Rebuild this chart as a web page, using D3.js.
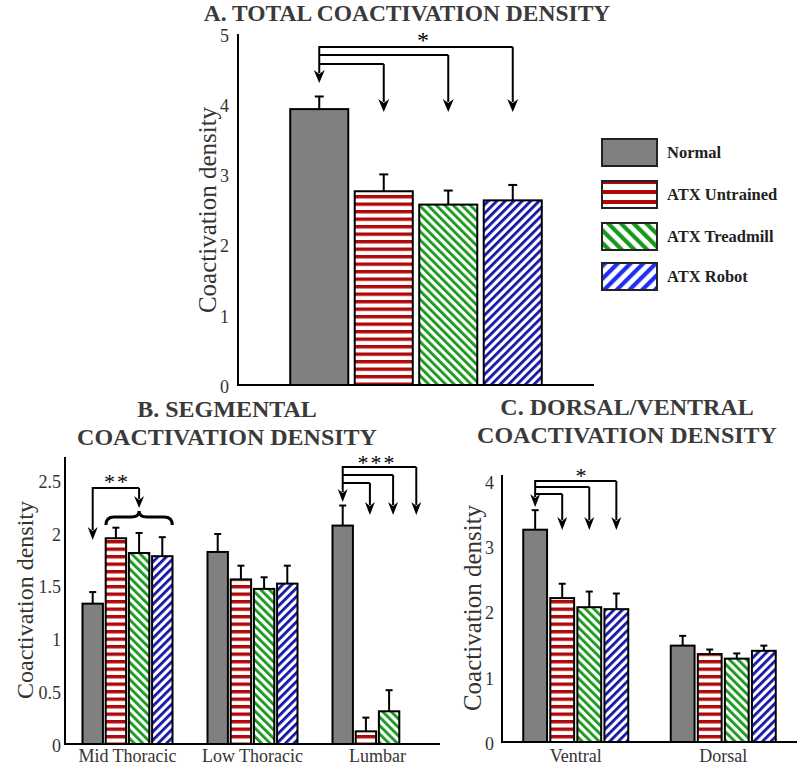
<!DOCTYPE html>
<html><head><meta charset="utf-8">
<script src="https://cdn.jsdelivr.net/npm/d3@7"></script>
<style>body{margin:0;background:#fff}svg{display:block}</style>
</head><body>
<svg id="chart" width="800" height="771"></svg>
<script>
// ---------- DATA ----------
const groups = ["Normal", "ATX Untrained", "ATX Treadmill", "ATX Robot"];

const totalMean = [3.93, 2.76, 2.57, 2.63];
const totalErr  = [0.18, 0.24, 0.20, 0.22];

const segCategories = ["Mid Thoracic", "Low Thoracic", "Lumbar"];
const segNormal       = [1.33, 1.82, 2.07];
const segNormalErr    = [0.11, 0.17, 0.19];
const segUntrained    = [1.95, 1.56, 0.12];
const segUntrainedErr = [0.10, 0.13, 0.13];
const segTreadmill    = [1.81, 1.47, 0.31];
const segTreadmillErr = [0.19, 0.11, 0.20];
const segRobot        = [1.78, 1.52, 0];
const segRobotErr     = [0.18, 0.17, 0];

const dvCategories = ["Ventral", "Dorsal"];
const dvNormal       = [3.26, 1.48];
const dvNormalErr    = [0.30, 0.15];
const dvUntrained    = [2.21, 1.35];
const dvUntrainedErr = [0.22, 0.07];
const dvTreadmill    = [2.07, 1.28];
const dvTreadmillErr = [0.24, 0.08];
const dvRobot        = [2.04, 1.40];
const dvRobotErr     = [0.24, 0.08];

const ticksA = [0, 1, 2, 3, 4, 5];
const ticksB = [0, 0.5, 1, 1.5, 2, 2.5];
const ticksC = [0, 1, 2, 3, 4];

const titleA = ["A. TOTAL COACTIVATION DENSITY"];
const titleB = ["B. SEGMENTAL", "COACTIVATION DENSITY"];
const titleC = ["C. DORSAL/VENTRAL", "COACTIVATION DENSITY"];
const yLabel = "Coactivation density";

// ---------- SETUP ----------
const svg = d3.select("#chart");
svg.append("rect").attr("width", 800).attr("height", 771).attr("fill", "#fff");
const defs = svg.append("defs");
const SERIF = "'Liberation Serif','Times New Roman',serif";
const RED = "#b00808", GREEN = "#16991a", BLUE = "#1414a8";

function hatch(id, color, period, stroke, angle) {
  const p = defs.append("pattern").attr("id", id)
    .attr("patternUnits", "userSpaceOnUse")
    .attr("width", period).attr("height", period);
  if (angle) p.attr("patternTransform", `rotate(${angle})`);
  p.append("rect").attr("width", period).attr("height", period).attr("fill", "#fff");
  if (angle) p.append("rect").attr("x", 0).attr("y", 0).attr("width", stroke).attr("height", period).attr("fill", color);
  else p.append("rect").attr("x", 0).attr("y", 0).attr("width", period).attr("height", stroke).attr("fill", color);
}
hatch("pRed", RED, 7.5, 3.4, 0);
hatch("pGreen", GREEN, 6, 2.8, -45);
hatch("pBlue", BLUE, 6, 2.8, 45);
hatch("lRed", RED, 10, 4, 0);
hatch("lGreen", GREEN, 9, 4.2, -45);
hatch("lBlue", "#2030f0", 9, 4.2, 45);

const fills = ["#808080", "url(#pRed)", "url(#pGreen)", "url(#pBlue)"];
const legendFills = ["#808080", "url(#lRed)", "url(#lGreen)", "url(#lBlue)"];

function arrowDown(g, x, yTop, yTip, w, len) {
  g.append("line").attr("x1", x).attr("x2", x).attr("y1", yTop).attr("y2", yTip - len + 3)
    .attr("stroke", "#000").attr("stroke-width", 2);
  g.append("path")
    .attr("d", `M${x},${yTip} L${x - w / 2},${yTip - len} L${x},${yTip - len + 4} L${x + w / 2},${yTip - len} Z`)
    .attr("fill", "#000");
}

function drawPanel(cfg) {
  const g = svg.append("g");
  const y = d3.scaleLinear().domain(cfg.yDomain).range([cfg.y0, cfg.yTop]);
  const ax = d3.axisLeft(y).tickValues(cfg.ticks).tickSize(0).tickPadding(cfg.tickPad)
    .tickFormat(d3.format("~g"));
  const ag = g.append("g").attr("transform", `translate(${cfg.xLeft},0)`).call(ax);
  ag.select(".domain").remove();
  ag.selectAll("text").attr("font-family", SERIF).attr("font-size", 18).attr("fill", "#333").attr("dy", "0.4em");
  g.append("line").attr("x1", cfg.xLeft).attr("x2", cfg.xLeft).attr("y1", cfg.y0 + 1).attr("y2", cfg.yTop)
    .attr("stroke", "#000").attr("stroke-width", 2);
  g.append("line").attr("x1", cfg.xLeft - 1).attr("x2", cfg.xRight).attr("y1", cfg.y0).attr("y2", cfg.y0)
    .attr("stroke", "#000").attr("stroke-width", 2);
  g.append("text").attr("transform", `translate(${cfg.yLabelX},${cfg.yLabelY}) rotate(-90)`)
    .attr("text-anchor", "middle").attr("dy", "0.35em")
    .attr("font-family", SERIF).attr("font-size", cfg.yLabelSize).attr("fill", "#333").text(yLabel);
  g.append("g").selectAll("text").data(cfg.title).join("text")
    .attr("x", cfg.titleX).attr("y", (d, i) => cfg.titleY + i * 28)
    .attr("text-anchor", "middle").attr("font-family", SERIF).attr("font-weight", "bold")
    .attr("font-size", cfg.titleSize).attr("fill", "#3a3a3a").text(d => d);
  return { g, y };
}

function drawBars(g, y, data, xPos, bw, cap) {
  const bars = data.filter(d => d.v > 0);
  g.selectAll(null).data(bars).join("line")
    .attr("x1", d => xPos(d) + bw / 2).attr("x2", d => xPos(d) + bw / 2)
    .attr("y1", d => y(d.v)).attr("y2", d => y(d.v + d.e))
    .attr("stroke", "#000").attr("stroke-width", 2);
  g.selectAll(null).data(bars).join("line")
    .attr("x1", d => xPos(d) + bw / 2 - cap / 2).attr("x2", d => xPos(d) + bw / 2 + cap / 2)
    .attr("y1", d => y(d.v + d.e)).attr("y2", d => y(d.v + d.e))
    .attr("stroke", "#000").attr("stroke-width", 2);
  g.selectAll(null).data(bars).join("rect")
    .attr("x", d => xPos(d)).attr("width", bw)
    .attr("y", d => y(d.v)).attr("height", d => y(0) - y(d.v))
    .attr("fill", d => fills[d.s]).attr("stroke", "#000").attr("stroke-width", 2);
}

// ---------- PANEL A ----------
{
  const P = drawPanel({ yDomain: [0, 5], y0: 385, yTop: 34, xLeft: 238, xRight: 594, ticks: ticksA, tickPad: 9,
    yLabelX: 207, yLabelY: 210, yLabelSize: 25, title: titleA, titleX: 407, titleY: 21, titleSize: 23.5 });
  const x = d3.scaleBand().domain(groups).range([287, 545]).paddingInner(0.1).paddingOuter(0.05);
  const data = groups.map((k, i) => ({ k, v: totalMean[i], e: totalErr[i], s: i }));
  drawBars(P.g, P.y, data, d => x(d.k), x.bandwidth(), 9);
  const cx = k => x(k) + x.bandwidth() / 2;
  const x0 = cx(groups[0]);
  const levels = [64, 55, 47];
  [1, 2, 3].forEach((j, i) => {
    const xx = cx(groups[j]);
    P.g.append("path").attr("d", `M${x0},${levels[i]} H${xx}`).attr("stroke", "#000").attr("stroke-width", 2).attr("fill", "none");
    arrowDown(P.g, xx, levels[i], 112, 11, 13);
  });
  arrowDown(P.g, x0, 46, 83, 11, 13);
  P.g.append("text").attr("x", 423).attr("y", 48).attr("text-anchor", "middle")
    .attr("font-family", SERIF).attr("font-size", 24).text("*");

  const lg = svg.append("g");
  const ly = [139, 181, 223, 263];
  groups.forEach((k, i) => {
    lg.append("rect").attr("x", 602).attr("y", ly[i]).attr("width", 55).attr("height", 27)
      .attr("fill", legendFills[i]).attr("stroke", "#222").attr("stroke-width", 2);
    lg.append("text").attr("x", 667).attr("y", ly[i] + 19).attr("font-family", SERIF).attr("font-weight", "bold")
      .attr("font-size", 16.5).attr("fill", "#222").text(k);
  });
}

// ---------- PANEL B ----------
{
  const P = drawPanel({ yDomain: [0, 2.72], y0: 744, yTop: 457, xLeft: 65, xRight: 440, ticks: ticksB, tickPad: 4,
    yLabelX: 25, yLabelY: 600, yLabelSize: 24, title: titleB, titleX: 227, titleY: 417, titleSize: 24 });
  const x0 = d3.scaleBand().domain(segCategories).range([65, 440]);
  const x1 = d3.scaleBand().domain(groups).range([0, 90]).paddingInner(0.12);
  const series = [[segNormal, segNormalErr], [segUntrained, segUntrainedErr], [segTreadmill, segTreadmillErr], [segRobot, segRobotErr]];
  const data = [];
  segCategories.forEach((c, ci) => series.forEach((s, si) => data.push({ c, k: groups[si], v: s[0][ci], e: s[1][ci], s: si })));
  const xPos = d => x0(d.c) + x0.bandwidth() / 2 - 45 + x1(d.k);
  drawBars(P.g, P.y, data, xPos, x1.bandwidth(), 7);
  P.g.selectAll(null).data(segCategories).join("text")
    .attr("x", c => x0(c) + x0.bandwidth() / 2).attr("y", 762).attr("text-anchor", "middle")
    .attr("font-family", SERIF).attr("font-size", 18).attr("fill", "#333").text(c => c);
  const cx = (c, k) => x0(c) + x0.bandwidth() / 2 - 45 + x1(k) + x1.bandwidth() / 2;
  const mN = cx(segCategories[0], groups[0]);
  const bx1 = cx(segCategories[0], groups[1]) - 10, bx2 = cx(segCategories[0], groups[3]) + 10;
  const bm = (bx1 + bx2) / 2;
  P.g.append("path").attr("d", `M${mN},${488} H${bm}`).attr("stroke", "#000").attr("stroke-width", 2).attr("fill", "none");
  arrowDown(P.g, mN, 487, 540, 10, 13);
  arrowDown(P.g, bm, 488, 508, 10, 12);
  const yb = 525, ym = 517, yt = 511;
  P.g.append("path")
    .attr("d", `M${bx1},${yb} Q${bx1},${ym} ${bx1 + 8},${ym} L${bm - 8},${ym} Q${bm},${ym} ${bm},${yt} Q${bm},${ym} ${bm + 8},${ym} L${bx2 - 8},${ym} Q${bx2},${ym} ${bx2},${yb}`)
    .attr("stroke", "#000").attr("stroke-width", 3).attr("fill", "none");
  P.g.append("text").attr("x", 117).attr("y", 489).attr("text-anchor", "middle")
    .attr("font-family", SERIF).attr("font-size", 22).attr("letter-spacing", 2).text("**");
  const lN = cx(segCategories[2], groups[0]);
  const lv = [483, 475, 467];
  [1, 2, 3].forEach((j, i) => {
    const xx = cx(segCategories[2], groups[j]) + 4;
    P.g.append("path").attr("d", `M${lN},${lv[i]} H${xx}`).attr("stroke", "#000").attr("stroke-width", 2).attr("fill", "none");
    arrowDown(P.g, xx, lv[i], 515, 10, 13);
  });
  arrowDown(P.g, lN, 466, 502, 10, 13);
  P.g.append("text").attr("x", 377).attr("y", 470).attr("text-anchor", "middle")
    .attr("font-family", SERIF).attr("font-size", 22).attr("letter-spacing", 2).text("***");
}

// ---------- PANEL C ----------
{
  const P = drawPanel({ yDomain: [0, 4.1], y0: 742, yTop: 475, xLeft: 502, xRight: 797, ticks: ticksC, tickPad: 8,
    yLabelX: 472, yLabelY: 608, yLabelSize: 25, title: titleC, titleX: 627, titleY: 415, titleSize: 24 });
  const x0 = d3.scaleBand().domain(dvCategories).range([502, 797]);
  const x1 = d3.scaleBand().domain(groups).range([0, 105]).paddingInner(0.12);
  const series = [[dvNormal, dvNormalErr], [dvUntrained, dvUntrainedErr], [dvTreadmill, dvTreadmillErr], [dvRobot, dvRobotErr]];
  const data = [];
  dvCategories.forEach((c, ci) => series.forEach((s, si) => data.push({ c, k: groups[si], v: s[0][ci], e: s[1][ci], s: si })));
  const xPos = d => x0(d.c) + x0.bandwidth() / 2 - 52.5 + x1(d.k);
  drawBars(P.g, P.y, data, xPos, x1.bandwidth(), 7);
  P.g.selectAll(null).data(dvCategories).join("text")
    .attr("x", c => x0(c) + x0.bandwidth() / 2).attr("y", 762).attr("text-anchor", "middle")
    .attr("font-family", SERIF).attr("font-size", 18).attr("fill", "#333").text(c => c);
  const cx = (c, k) => x0(c) + x0.bandwidth() / 2 - 52.5 + x1(k) + x1.bandwidth() / 2;
  const vN = cx(dvCategories[0], groups[0]);
  const lv = [494, 487, 481];
  [1, 2, 3].forEach((j, i) => {
    const xx = cx(dvCategories[0], groups[j]);
    P.g.append("path").attr("d", `M${vN},${lv[i]} H${xx}`).attr("stroke", "#000").attr("stroke-width", 2).attr("fill", "none");
    arrowDown(P.g, xx, lv[i], 530, 10, 13);
  });
  arrowDown(P.g, vN, 480, 507, 10, 13);
  P.g.append("text").attr("x", 581).attr("y", 483).attr("text-anchor", "middle")
    .attr("font-family", SERIF).attr("font-size", 22).text("*");
}
</script>
</body></html>
